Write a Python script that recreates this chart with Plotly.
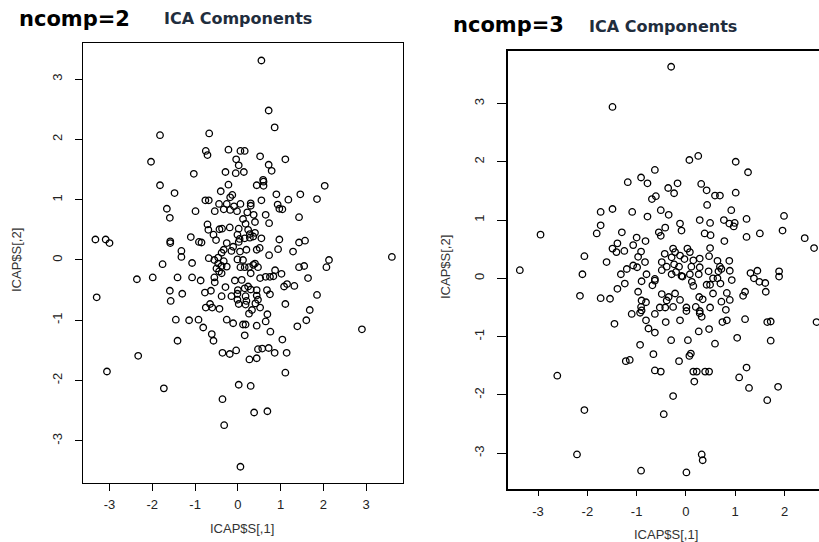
import plotly.graph_objects as go

# ---- ncomp = 2 : ICA components (ICAP$S[,1], ICAP$S[,2]) ----
left_pts = [
(0.55,3.31),(0.72,2.48),(0.86,2.20),(-1.82,2.07),(-0.67,2.10),(-0.75,1.81),(-0.71,1.74),(-0.22,1.83),(0.06,1.81),(0.16,1.81),(0.52,1.72),(1.11,1.67),(-2.03,1.63),(-0.04,1.67),(0.02,1.57),(0.72,1.58),(0.79,1.48),(-1.03,1.43),(-0.29,1.46),(-0.05,1.44),(0.14,1.46),(0.59,1.33),
(-1.82,1.24),(-0.22,1.25),(0.44,1.24),(0.60,1.30),(0.60,1.23),(2.03,1.23),(-1.48,1.11),(-0.40,1.14),(-0.13,1.08),(-0.18,1.04),(0.90,1.09),(1.46,1.09),(-0.76,0.99),(-0.68,0.99),(-0.44,0.93),(-0.26,0.93),(-0.09,0.89),(0.06,0.93),(0.30,0.94),(0.30,0.90),(0.55,0.99),(0.93,0.92),(0.97,0.85),(1.04,0.84),(1.18,1.0),(1.85,1.01),(-1.66,0.85),(-0.99,0.81),(-0.54,0.81),(-0.33,0.84),(-0.18,0.83),(-0.02,0.81),(0.22,0.79),(0.37,0.75),(0.65,0.75),(-1.59,0.70),(0.12,0.68),(0.40,0.63),(0.18,0.60),(0.73,0.61),(1.43,0.71),(-0.71,0.59),(-0.69,0.50),(-0.43,0.51),(-0.37,0.52),(-0.19,0.54),(0.02,0.52),(0.24,0.50),(0.40,0.45),(0.28,0.43),(-0.57,0.42),(-0.51,0.33),(-0.01,0.42),(0.04,0.35),(0.02,0.30),(0.16,0.36),(0.28,0.37),(0.36,0.39),(0.55,0.36),(0.97,0.34),(1.43,0.29),(1.57,0.32),(-3.33,0.34),(-3.09,0.34),(-3.00,0.28),(-1.58,0.31),(-1.58,0.28),(-1.10,0.38),(-0.91,0.30),(-0.85,0.29),(-0.26,0.28),(-0.11,0.22),(-0.33,0.17),(-0.38,0.12),(-0.15,0.15),(0.05,0.14),(0.20,0.17),(0.44,0.17),(0.51,0.20),(-1.32,0.15),(-1.32,0.05),(0.94,0.18),(1.29,0.14),(0.73,0.08),(-0.68,0.03),(-0.55,0.0),(-0.46,0.04),(-0.33,-0.02),(-0.01,0.01),(0.12,0.0),(-1.76,-0.07),(-1.07,-0.05),(2.13,0.0),(2.07,-0.12),(3.6,0.05),(-0.46,-0.06),(-0.38,-0.10),(-0.26,-0.11),(-0.50,-0.14),(-0.44,-0.19),(-0.38,-0.22),(0.06,-0.12),(0.16,-0.12),(0.26,-0.12),(0.36,-0.08),(0.40,-0.06),(0.47,-0.12),(0.30,-0.22),(1.43,-0.12),(1.55,-0.10),(0.87,-0.17),(0.83,-0.27),(1.02,-0.23),(0.52,-0.30),(0.65,-0.28),(0.75,-0.28),(-2.36,-0.32),(-1.99,-0.29),(-1.41,-0.29),(-1.07,-0.29),(-0.87,-0.34),(-0.55,-0.29),(-0.54,-0.37),(-0.07,-0.34),(0.09,-0.33),(1.64,-0.30),(-0.29,-0.45),(0.0,-0.50),(0.16,-0.47),(0.24,-0.44),(0.30,-0.49),(0.44,-0.50),(0.68,-0.50),(1.08,-0.44),(1.15,-0.40),(1.32,-0.43),(-1.59,-0.51),(-1.30,-0.56),(-0.77,-0.54),(-0.63,-0.51),(-0.15,-0.60),(-0.01,-0.56),(0.18,-0.60),(0.44,-0.59),(0.75,-0.57),(-0.38,-0.60),(1.85,-0.58),(-3.30,-0.62),(-1.57,-0.68),(-0.01,-0.66),(0.20,-0.68),(0.47,-0.66),
(-0.65,-0.73),(-0.75,-0.79),(-0.60,-0.79),(-0.43,-0.81),(0.02,-0.73),(0.18,-0.74),(0.41,-0.72),(0.52,-0.79),(0.33,-0.83),(0.26,-0.89),(0.69,-0.90),(1.11,-0.73),(1.68,-0.83),(-1.45,-0.99),(-1.14,-1.00),(-0.92,-0.99),(-0.26,-0.99),(-0.11,-1.05),(0.12,-1.07),(0.18,-1.07),(0.44,-1.09),(0.65,-1.02),(1.60,-1.00),(1.39,-1.10),(2.90,-1.15),(-0.81,-1.12),(-0.61,-1.23),(-0.57,-1.34),(0.16,-1.25),(0.76,-1.19),(-1.41,-1.34),(1.04,-1.32),(-0.36,-1.54),(-0.19,-1.56),(-0.04,-1.50),(0.47,-1.48),(0.57,-1.47),(0.72,-1.46),(0.86,-1.54),(1.14,-1.54),(0.27,-1.65),(0.44,-1.63),(-2.33,-1.59),(-3.06,-1.85),(1.11,-1.87),(-1.73,-2.13),(0.02,-2.07),(0.30,-2.09),(-0.36,-2.31),(0.38,-2.53),(0.69,-2.51),(-0.32,-2.74),(0.06,-3.43)
]

# ---- ncomp = 3 : ICA components (ICAP$S[,1], ICAP$S[,2]) ----
right_pts = [
(-0.30,3.63),(-1.49,2.94),(0.07,2.03),(0.25,2.10),(1.01,2.00),(1.26,1.82),(-0.63,1.86),(-0.91,1.73),
(-1.18,1.65),(-0.78,1.63),(-0.36,1.55),(-0.17,1.63),(-0.24,1.46),(0.31,1.62),(0.42,1.51),(0.59,1.42),(0.69,1.42),(1.01,1.47),(-0.69,1.36),(-0.61,1.41),(0.43,1.26),(-1.73,1.14),(-1.49,1.19),(-1.09,1.14),(-0.51,1.17),(-0.35,1.09),(-0.78,1.06),(0.92,1.17),(1.99,1.07),(-0.12,0.94),(-0.09,0.82),(0.28,1.00),(0.49,0.95),(0.77,1.00),(0.88,0.94),(0.99,0.95),(0.97,0.89),(1.23,1.02),(-1.73,0.91),(-1.81,0.77),(-2.95,0.75),(-1.30,0.79),(-0.55,0.79),(-0.51,0.73),(-0.42,0.87),(0.38,0.77),(0.50,0.74),(0.78,0.64),(1.23,0.71),(1.50,0.77),(1.96,0.82),(2.41,0.69),(2.60,0.52),(-1.0,0.70),(-0.82,0.64),(-1.39,0.60),(-1.49,0.51),(-1.41,0.45),(-1.25,0.47),(-1.07,0.57),(-0.91,0.46),(-0.97,0.37),(-0.83,0.28),(-0.26,0.51),(-0.22,0.45),(-0.29,0.36),(-0.12,0.39),(0.03,0.51),(0.08,0.45),(-0.03,0.33),(-0.43,0.42),(-0.49,0.28),(-0.39,0.20),(-0.49,0.14),(-0.24,0.24),(-0.14,0.20),(-0.20,0.11),(-0.29,0.07),(-0.07,0.03),(0.15,0.31),(0.28,0.34),(0.11,0.20),(0.28,0.19),(0.49,0.52),(0.47,0.38),(0.64,0.30),(0.69,0.20),(0.72,0.16),(0.88,0.30),(-2.06,0.38),(-1.61,0.28),(-1.20,0.16),(-1.07,0.22),(-0.99,0.19),(-3.37,0.14),(-2.10,0.07),(-1.32,0.07),(-0.80,0.07),(-0.63,-0.01),(-0.63,-0.04),(0.08,0.07),(0.26,0.07),(-0.09,0.04),(0.46,0.12),(0.66,0.12),(0.89,0.13),(0.55,0.0),(0.64,0.0),(0.49,-0.11),(0.70,-0.09),(0.93,-0.03),(0.12,-0.06),(0.15,-0.13),(0.42,-0.11),(1.31,0.09),(1.45,0.13),(1.38,0.0),(1.49,-0.06),(1.61,-0.08),(1.89,0.12),(1.89,0.03),(-1.24,-0.09),(-1.39,-0.18),(-0.90,-0.05),(-0.68,-0.12),(-2.15,-0.30),(-1.73,-0.34),(-1.54,-0.35),(-0.97,-0.23),(-0.49,-0.27),(-0.35,-0.32),(-0.22,-0.26),(-0.39,-0.38),(-0.12,-0.37),(0.27,-0.32),(0.34,-0.36),(0.55,-0.26),(0.83,-0.25),(0.72,-0.40),(0.89,-0.37),(1.20,-0.23),(1.16,-0.30),(1.62,-0.23),(-0.90,-0.38),(-0.81,-0.41),(-0.91,-0.49),(-0.53,-0.50),(-0.42,-0.50),(-0.26,-0.49),(0.01,-0.50),(0.20,-0.49),(0.49,-0.50),
(-0.93,-0.59),(-0.90,-0.55),(-1.10,-0.61),(-0.63,-0.61),(0.01,-0.56),(0.28,-0.56),(0.28,-0.60),(0.81,-0.54),
(-1.45,-0.78),(-0.81,-0.72),(-0.41,-0.75),(-0.12,-0.72),(0.32,-0.66),(0.74,-0.75),(0.83,-0.72),(1.20,-0.70),(1.65,-0.75),(1.72,-0.74),(2.65,-0.75),(-0.76,-0.86),(-0.63,-0.93),(0.26,-0.91),(0.47,-0.87),(-0.30,-1.06),(0.04,-1.06),(0.59,-1.12),(1.04,-1.02),(1.72,-1.07),(-0.93,-1.14),(-0.66,-1.30),(-0.14,-1.42),(0.07,-1.33),(0.10,-1.29),(-1.22,-1.42),(-1.14,-1.40),(-0.63,-1.58),(-0.51,-1.60),(0.15,-1.60),(0.22,-1.60),(0.39,-1.60),(0.47,-1.60),(1.23,-1.53),(-2.61,-1.67),(0.17,-1.77),(1.08,-1.70),(1.28,-1.88),(1.87,-1.86),(1.65,-2.09),(-0.26,-2.02),(-2.06,-2.26),(-0.45,-2.33),(-2.21,-3.02),(0.32,-3.02),(0.34,-3.12),(-0.91,-3.30),(0.01,-3.33)
]

left_x = [p[0] for p in left_pts]
left_y = [p[1] for p in left_pts]
right_x = [p[0] for p in right_pts]
right_y = [p[1] for p in right_pts]

tick_vals = [-3, -2, -1, 0, 1, 2, 3]
tick_text = ["-3", "-2", "-1", "0", "1", "2", "3"]

W, H = 819, 542
def px(x):
    return x / W
def py(y):
    return 1 - y / H

marker = dict(symbol="circle-open", size=6.5, color="black", line=dict(width=1.3, color="black"))

fig = go.Figure()
fig.add_trace(go.Scatter(x=left_x, y=left_y, mode="markers", marker=marker,
                         xaxis="x", yaxis="y", showlegend=False, cliponaxis=True))
fig.add_trace(go.Scatter(x=right_x, y=right_y, mode="markers", marker=marker,
                         xaxis="x2", yaxis="y2", showlegend=False, cliponaxis=True))

tickfont = dict(family="Liberation Sans, Arial, sans-serif", size=13, color="#222222")
common = dict(showgrid=False, zeroline=False, ticks="outside", tickcolor="black",
              tickvals=tick_vals, ticktext=tick_text, tickfont=tickfont,
              showline=True, linecolor="black")

fig.update_layout(
    width=W, height=H,
    margin=dict(l=0, r=0, t=0, b=0),
    paper_bgcolor="white", plot_bgcolor="white",
    xaxis=dict(**common, domain=[px(83), px(403)], range=[-3.62, 3.86], anchor="y",
               ticklen=7, linewidth=1.2, mirror=True, ticklabelstandoff=2),
    yaxis=dict(**common, domain=[py(483), py(43)], range=[-3.70, 3.60], anchor="x",
               ticklen=7, linewidth=1.2, mirror=True, tickangle=-90, ticklabelstandoff=8),
    xaxis2=dict(**common, domain=[px(508), 1.0], range=[-3.61, 2.70], anchor="y2",
                ticklen=6, linewidth=1.8, mirror=True, ticklabelstandoff=4),
    yaxis2=dict(**common, domain=[py(488.5), py(51)], range=[-3.605, 3.90], anchor="x2",
                ticklen=9, linewidth=1.8, mirror=False, tickangle=-90, ticklabelstandoff=8),
)

title_font = dict(family="DejaVu Sans, sans-serif", size=21, color="black")
sub_font = dict(family="DejaVu Sans, sans-serif", size=16, color="#1f2d3d")
axis_font = dict(family="Liberation Sans, Arial, sans-serif", size=13, color="#333333")

annotations = [
    dict(text="<b>ncomp=2</b>", x=px(17), y=py(19), font=title_font),
    dict(text="<b>ICA Components</b>", x=px(162), y=py(19), font=sub_font),
    dict(text="<b>ncomp=3</b>", x=px(451), y=py(25), font=title_font),
    dict(text="<b>ICA Components</b>", x=px(587), y=py(26), font=sub_font),
]
for a in annotations:
    a.update(xref="paper", yref="paper", xanchor="left", yanchor="middle", showarrow=False)

annotations += [
    dict(text="ICAP$S[,1]", x=px(242), y=py(528), font=axis_font),
    dict(text="ICAP$S[,1]", x=px(666), y=py(534), font=axis_font),
    dict(text="ICAP$S[,2]", x=px(17), y=py(260), font=axis_font, textangle=-90),
    dict(text="ICAP$S[,2]", x=px(445), y=py(267), font=axis_font, textangle=-90),
]
for a in annotations[4:]:
    a.update(xref="paper", yref="paper", xanchor="center", yanchor="middle", showarrow=False)

fig.update_layout(annotations=annotations)

fig.write_html("out.html")
